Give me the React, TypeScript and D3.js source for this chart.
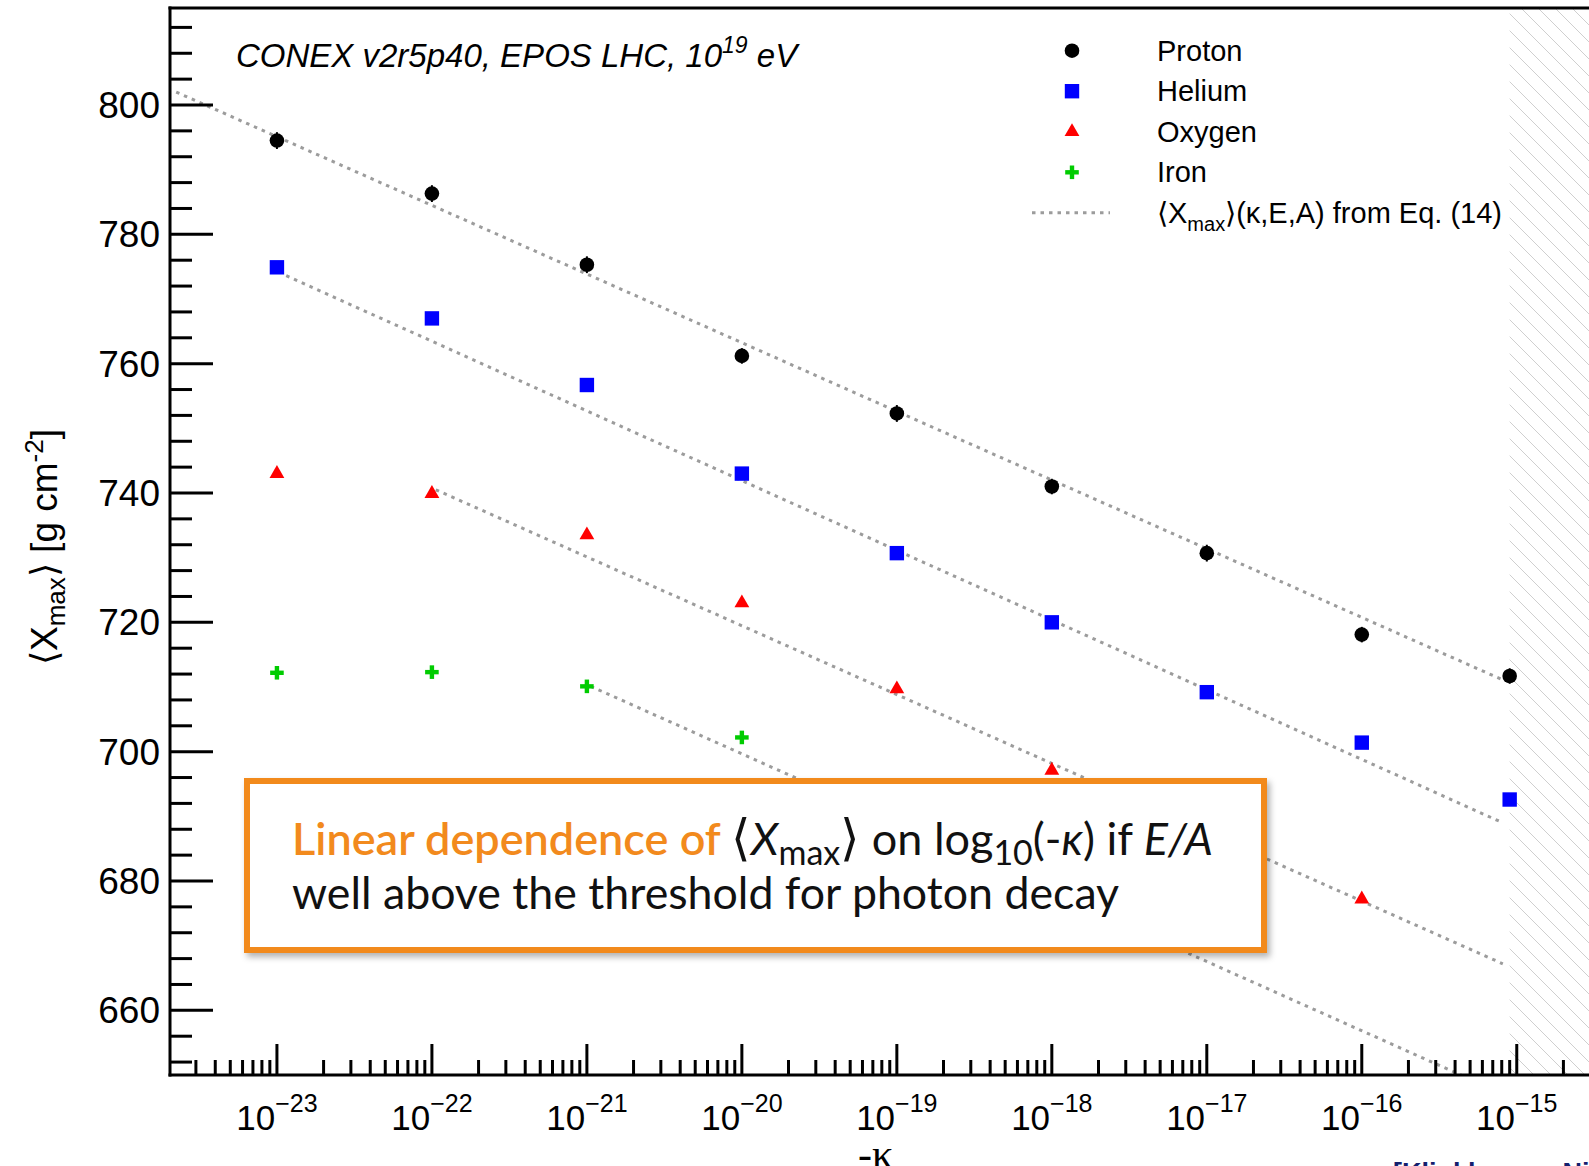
import React from 'react';
import * as d3 from 'd3';

// -κ values at which CONEX showers were simulated
const kappaValues = [1e-23, 1e-22, 1e-21, 1e-20, 1e-19, 1e-18, 1e-17, 1e-16, 9e-16];

// Mean depth of shower maximum <Xmax> [g cm^-2] per primary
const protonXmax = [794.5, 786.3, 775.3, 761.2, 752.3, 741.0, 730.7, 718.1, 711.7];
const protonErr = [1.3, 1.3, 1.3, 1.2, 1.3, 1.2, 1.3, 1.2, 1.2];
const heliumXmax = [774.9, 767.0, 756.7, 743.0, 730.7, 720.0, 709.2, 701.4, 692.6];
const oxygenXmax = [743.0, 739.9, 733.5, 723.0, 709.7, 697.1, 686.5, 677.2];
const ironXmax = [712.2, 712.3, 710.1, 702.2, 692.0, 681.5, 670.5];

// Eq. (14): straight segments in log10(-κ), given by their end points [-κ, <Xmax>]
const protonModel: [number, number][] = [[10 ** -23.65, 802.0], [10 ** -15.09, 711.1]];
const heliumModel: [number, number][] = [[10 ** -22.94, 773.6], [10 ** -15.09, 689.0]];
const oxygenModel: [number, number][] = [[10 ** -21.975, 740.5], [10 ** -15.09, 667.2]];
const ironModel: [number, number][] = [[10 ** -20.975, 710.1], [10 ** -15.09, 647.1]];

// excluded region (hatched) starts here
const hatchFrom = 9e-16;

// axis ticks
const yMajorTicks = [660, 680, 700, 720, 740, 760, 780, 800];
const xDecadeExponents = [-23, -22, -21, -20, -19, -18, -17, -16, -15];

const legendLabels = ['Proton', 'Helium', 'Oxygen', 'Iron'];

const W = 1589;
const H = 1166;
const plotLeft = 170;
const plotRight = 1602;
const plotTop = 8;
const plotBottom = 1075;

const AXIS_FONT = '"Liberation Sans", Arial, Helvetica, sans-serif';
const BOX_FONT = 'Lato, "Open Sans", sans-serif';
const ORANGE = '#f28a1d';
const MODEL_GRAY = '#9c9c9c';

const x = d3.scaleLog().domain([10 ** -23.69, 10 ** -14.45]).range([plotLeft, plotRight]);
const y = d3.scaleLinear().domain([650, 815]).range([plotBottom, plotTop]);

const modelLine = d3
  .line<[number, number]>()
  .x((d) => x(d[0]))
  .y((d) => y(d[1]));

function Circle({ cx, cy }: { cx: number; cy: number }) {
  return <circle cx={cx} cy={cy} r={7.3} fill="#000" />;
}
function Square({ cx, cy }: { cx: number; cy: number }) {
  return <rect x={cx - 7.2} y={cy - 7.2} width={14.4} height={14.4} fill="#0000ff" />;
}
function Triangle({ cx, cy }: { cx: number; cy: number }) {
  const tri = d3.symbol().type(d3.symbolTriangle).size(95)();
  return <path d={tri as string} transform={`translate(${cx},${cy})`} fill="#ff0000" />;
}
function Cross({ cx, cy }: { cx: number; cy: number }) {
  return (
    <g stroke="#00cc00" strokeWidth={4.4}>
      <line x1={cx - 6.8} x2={cx + 6.8} y1={cy} y2={cy} />
      <line x1={cx} x2={cx} y1={cy - 6.8} y2={cy + 6.8} />
    </g>
  );
}

const markers = [Circle, Square, Triangle, Cross];

function App() {
  // minor x ticks: k * 10^n
  const xMinor: number[] = [];
  for (let e = -24; e <= -15; e++) {
    for (let k = 2; k <= 9; k++) {
      const v = k * 10 ** e;
      if (x(v) > plotLeft + 2 && x(v) < plotRight) xMinor.push(v);
    }
  }
  const yMinor: number[] = [];
  for (let v = 652; v <= 812; v += 4) {
    if (v % 20 !== 0) yMinor.push(v);
  }

  const series = [
    { values: protonXmax, M: Circle },
    { values: heliumXmax, M: Square },
    { values: oxygenXmax, M: Triangle },
    { values: ironXmax, M: Cross },
  ];
  const models = [protonModel, heliumModel, oxygenModel, ironModel];

  const legendY = [50.7, 91.2, 131.7, 172.3, 212.8];

  return (
    <svg
      width={W}
      height={H}
      style={{ position: 'absolute', left: 0, top: 0, background: '#fff' }}
      xmlns="http://www.w3.org/2000/svg"
    >
      <defs>
        <clipPath id="plotClip">
          <rect x={plotLeft} y={plotTop} width={plotRight - plotLeft} height={plotBottom - plotTop} />
        </clipPath>
        <pattern id="hatch" patternUnits="userSpaceOnUse" width={17} height={17}>
          <path d="M0,0 L17,17 M-4,13 L4,21 M13,-4 L21,4" stroke="#cfcfcf" strokeWidth={1} />
        </pattern>
        <filter id="boxShadow" x="-5%" y="-20%" width="110%" height="140%">
          <feDropShadow dx={3} dy={4} stdDeviation={3} floodColor="#000" floodOpacity={0.3} />
        </filter>
      </defs>

      <rect x={0} y={0} width={W} height={H} fill="#fff" />

      {/* excluded region */}
      <rect
        x={x(hatchFrom)}
        y={plotTop}
        width={plotRight - x(hatchFrom)}
        height={plotBottom - plotTop}
        fill="url(#hatch)"
      />

      {/* Eq. (14) predictions */}
      <g clipPath="url(#plotClip)">
        {models.map((m, i) => (
          <path
            key={i}
            d={modelLine(m) as string}
            fill="none"
            stroke={MODEL_GRAY}
            strokeWidth={3}
            strokeDasharray="3.5 5"
          />
        ))}
      </g>

      {/* simulated points */}
      <g>
        {protonXmax.map((v, i) => (
          <line
            key={'e' + i}
            x1={x(kappaValues[i])}
            x2={x(kappaValues[i])}
            y1={y(v - protonErr[i])}
            y2={y(v + protonErr[i])}
            stroke="#000"
            strokeWidth={2}
          />
        ))}
        {series.map(({ values, M }, si) =>
          values.map((v, i) => <M key={si + '-' + i} cx={x(kappaValues[i])} cy={y(v)} />)
        )}
      </g>

      {/* annotation box */}
      <rect
        x={247}
        y={781}
        width={1017}
        height={169}
        fill="#fff"
        stroke={ORANGE}
        strokeWidth={6}
        filter="url(#boxShadow)"
      />
      <text x={292} y={855} fontFamily={BOX_FONT} fontSize={45} fill="#111">
        <tspan fill={ORANGE} fontWeight={600}>Linear dependence of </tspan>
        <tspan fontSize={50}>⟨</tspan>
        <tspan fontStyle="italic">X</tspan>
        <tspan fontSize={34} dy={10}>max</tspan>
        <tspan fontSize={50} dy={-10}>⟩</tspan>
        <tspan> on log</tspan>
        <tspan fontSize={34} dy={10}>10</tspan>
        <tspan dy={-10}>(-</tspan>
        <tspan fontStyle="italic">κ</tspan>
        <tspan>) if </tspan>
        <tspan fontStyle="italic">E/A</tspan>
      </text>
      <text x={292} y={909} fontFamily={BOX_FONT} fontSize={44.7} fill="#111">
        well above the threshold for photon decay
      </text>

      {/* frame and axes */}
      <g stroke="#000" strokeWidth={3} fill="none">
        <line x1={plotLeft} x2={plotLeft} y1={plotTop - 1.5} y2={plotBottom + 1.5} />
        <line x1={plotLeft - 1.5} x2={plotRight} y1={plotTop} y2={plotTop} />
        <line x1={plotLeft - 1.5} x2={plotRight} y1={plotBottom} y2={plotBottom} />
        {yMajorTicks.map((v) => (
          <line key={'ym' + v} x1={plotLeft} x2={plotLeft + 43} y1={y(v)} y2={y(v)} />
        ))}
        {yMinor.map((v) => (
          <line key={'yn' + v} x1={plotLeft} x2={plotLeft + 22} y1={y(v)} y2={y(v)} />
        ))}
        {xDecadeExponents.map((e) => (
          <line key={'xm' + e} x1={x(10 ** e)} x2={x(10 ** e)} y1={plotBottom} y2={plotBottom - 31} />
        ))}
        {xMinor.map((v, i) => (
          <line key={'xn' + i} x1={x(v)} x2={x(v)} y1={plotBottom} y2={plotBottom - 15} />
        ))}
      </g>

      {/* y tick labels */}
      <g fontFamily={AXIS_FONT} fontSize={37} fill="#000" textAnchor="end">
        {yMajorTicks.map((v) => (
          <text key={'yl' + v} x={160} y={y(v) + 13}>
            {v}
          </text>
        ))}
      </g>

      {/* x tick labels */}
      <g fontFamily={AXIS_FONT} fontSize={35} fill="#000" textAnchor="middle">
        {xDecadeExponents.map((e) => (
          <text key={'xl' + e} x={x(10 ** e)} y={1130}>
            10
            <tspan fontSize={25} dy={-18}>
              {'\u2212' + Math.abs(e)}
            </tspan>
          </text>
        ))}
      </g>

      {/* axis titles */}
      <text
        transform="translate(57,547) rotate(-90)"
        fontFamily={AXIS_FONT}
        fontSize={37}
        textAnchor="middle"
        fill="#000"
      >
        ⟨X<tspan fontSize={26} dy={8}>max</tspan>
        <tspan dy={-8}>⟩ [g cm</tspan>
        <tspan fontSize={26} dy={-14}>-2</tspan>
        <tspan dy={14}>]</tspan>
      </text>
      <text x={858} y={1168} fontFamily='"Liberation Serif", "DejaVu Serif", serif' fontSize={42} fill="#000">
        -κ
      </text>

      {/* header */}
      <text x={236} y={67} fontFamily={AXIS_FONT} fontSize={33} fontStyle="italic" fill="#000">
        CONEX v2r5p40, EPOS LHC, 10
        <tspan fontSize={23} dy={-14}>19</tspan>
        <tspan dy={14}> eV</tspan>
      </text>

      {/* legend */}
      <g>
        {markers.map((M, i) => (
          <M key={'lm' + i} cx={1072} cy={legendY[i]} />
        ))}
        <line
          x1={1032}
          x2={1110}
          y1={legendY[4]}
          y2={legendY[4]}
          stroke={MODEL_GRAY}
          strokeWidth={3}
          strokeDasharray="3.5 5"
        />
        <g fontFamily={AXIS_FONT} fontSize={29} fill="#000">
          {legendLabels.map((l, i) => (
            <text key={'lt' + i} x={1157} y={legendY[i] + 10}>
              {l}
            </text>
          ))}
          <text x={1157} y={legendY[4] + 10}>
            ⟨X<tspan fontSize={20} dy={8}>max</tspan>
            <tspan dy={-8}>⟩(κ,E,A) from Eq. (14)</tspan>
          </text>
        </g>
      </g>

      {/* reference */}
      <text x={1393} y={1182} fontFamily={AXIS_FONT} fontSize={27} fontWeight="bold" fill="#14206e">
        [Klinkhamer, Niechciol, Risse, PRD 96 (2017)]
      </text>
    </svg>
  );
}

export default App;
